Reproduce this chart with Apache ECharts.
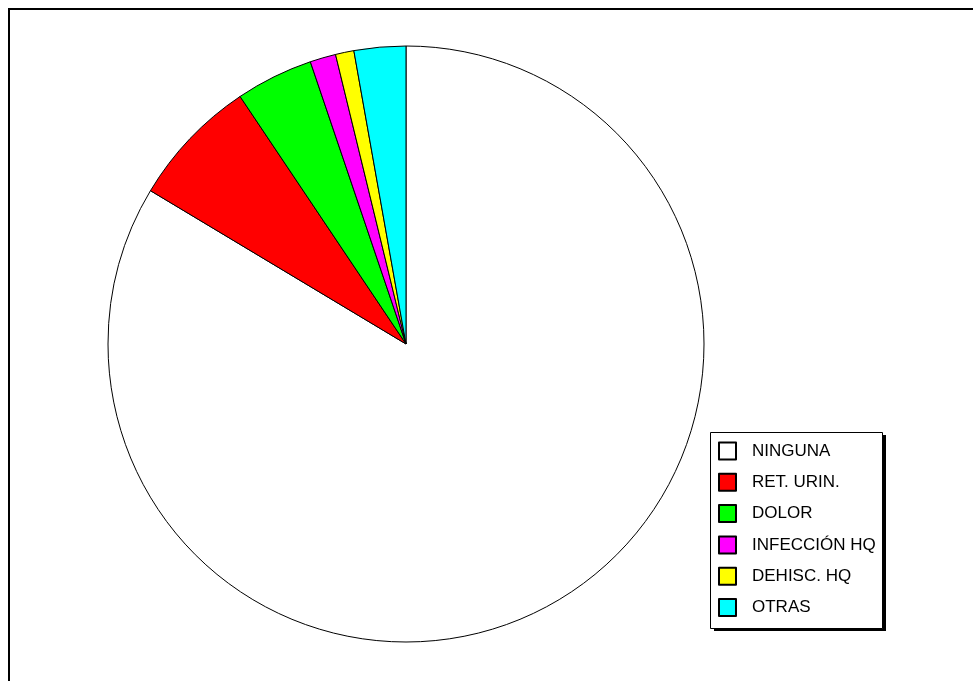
<!DOCTYPE html>
<html>
<head>
<meta charset="utf-8">
<title>Complicaciones</title>
<script src="https://cdn.jsdelivr.net/npm/echarts@6/dist/echarts.min.js"></script>
<style>
  html, body { margin: 0; padding: 0; background: #fff; }
  #chart { width: 973px; height: 681px; }
</style>
</head>
<body>
<div id="chart"></div>
<script>
// Complication categories and their share of cases (%)
const categories = ['NINGUNA', 'RET. URIN.', 'DOLOR', 'INFECCIÓN HQ', 'DEHISC. HQ', 'OTRAS'];
const shares = [83.6, 7.0, 4.2, 1.4, 1.0, 2.8];
const colors = ['#ffffff', '#ff0000', '#00ff00', '#ff00ff', '#ffff00', '#00ffff'];

const chart = echarts.init(document.getElementById('chart'), null, { renderer: 'canvas' });

const pieData = categories.map((name, i) => ({
  name: name,
  value: shares[i],
  itemStyle: { color: colors[i] }
}));

chart.setOption({
  animation: false,
  backgroundColor: '#ffffff',
  graphic: [
    // outer frame (top and left edges)
    {
      type: 'polyline',
      z: 0,
      shape: { points: [[9, 681], [9, 9], [973, 9]] },
      style: { stroke: '#000', lineWidth: 2, fill: null }
    },
    // legend box shadow
    {
      type: 'rect',
      z: 1,
      shape: { x: 714, y: 435, width: 172, height: 196 },
      style: { fill: '#000' }
    },
    // legend box
    {
      type: 'rect',
      z: 2,
      shape: { x: 710.5, y: 432.5, width: 172, height: 196 },
      style: { fill: '#fff', stroke: '#000', lineWidth: 1 }
    }
  ],
  legend: {
    orient: 'vertical',
    left: 718,
    top: 441.5,
    z: 10,
    padding: 0,
    itemWidth: 17,
    itemHeight: 17,
    itemGap: 12.3,
    selectedMode: false,
    icon: 'rect',
    itemStyle: { borderColor: '#000', borderWidth: 2 },
    textStyle: {
      fontFamily: "'Liberation Sans', Arial, sans-serif",
      fontSize: 17,
      lineHeight: 17,
      color: '#000',
      padding: [0, 0, 0, 11]
    },
    data: categories
  },
  series: [
    {
      type: 'pie',
      center: [406, 344],
      radius: 298,
      startAngle: 90,
      clockwise: true,
      avoidLabelOverlap: false,
      label: { show: false },
      labelLine: { show: false },
      emphasis: { disabled: true },
      itemStyle: { borderColor: '#000', borderWidth: 1 },
      data: pieData
    }
  ]
});
</script>
</body>
</html>
